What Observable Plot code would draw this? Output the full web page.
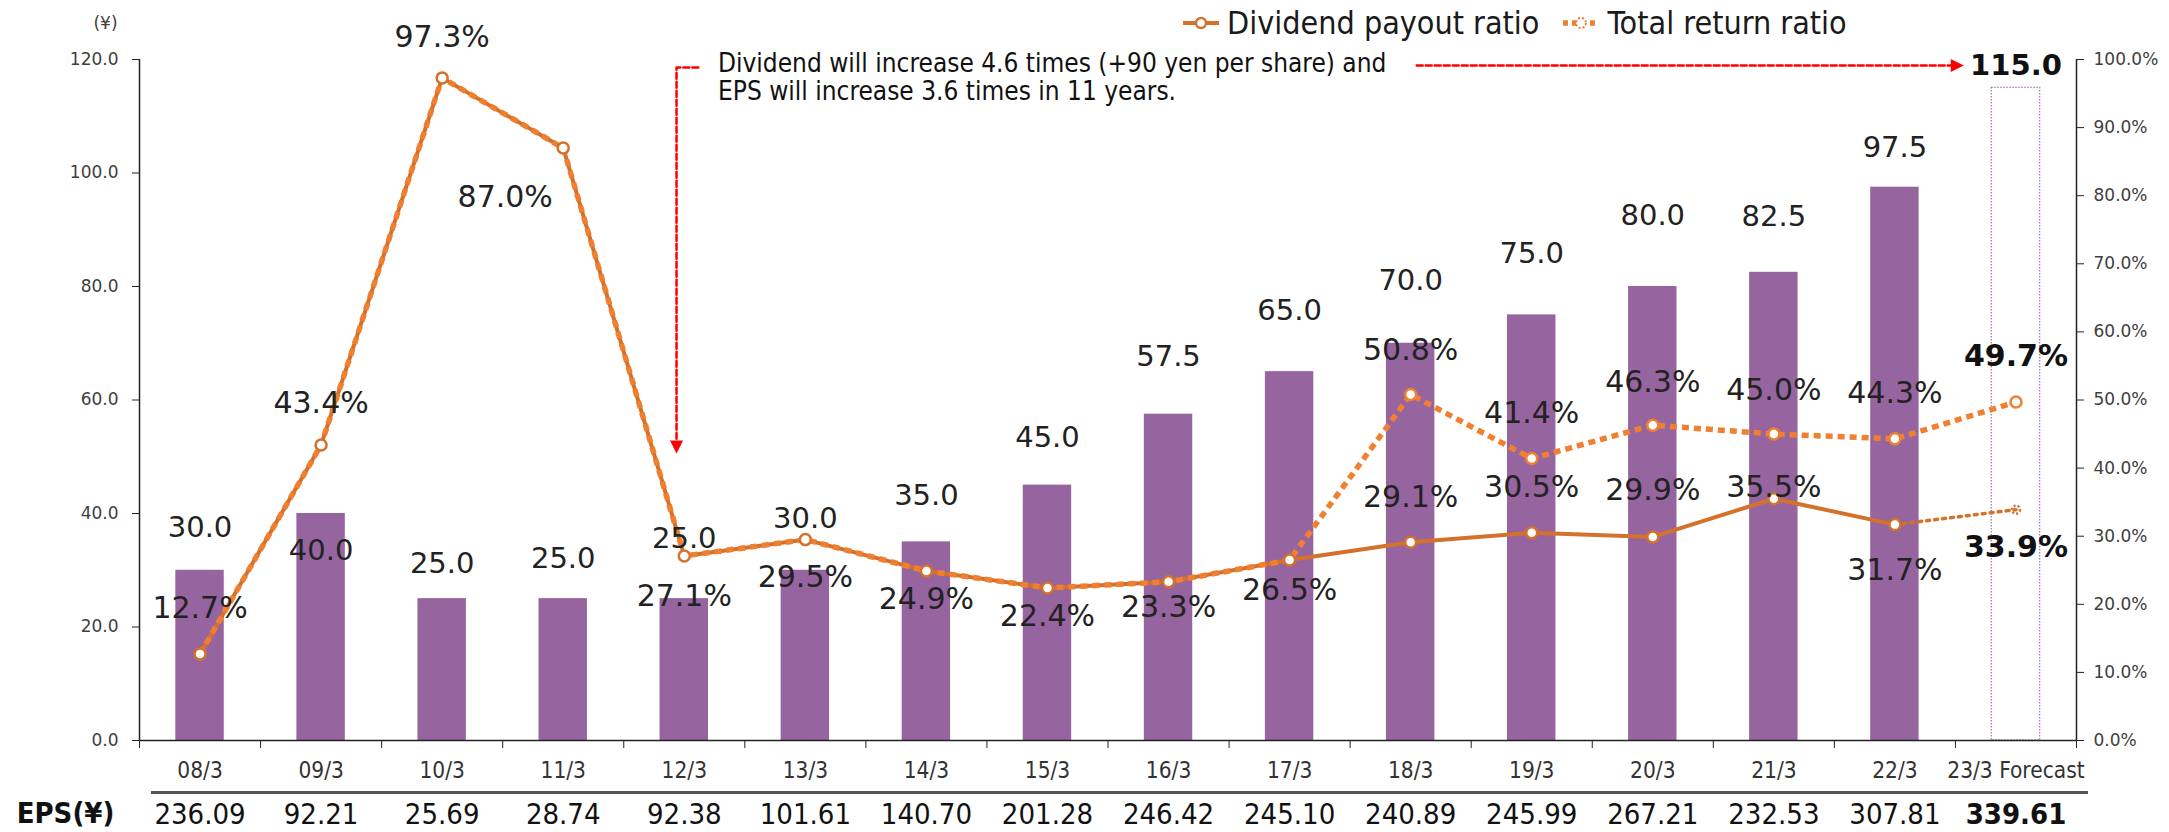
<!DOCTYPE html>
<html>
<head>
<meta charset="utf-8">
<script src="https://cdn.jsdelivr.net/npm/d3@7"></script>
<script src="https://cdn.jsdelivr.net/npm/@observablehq/plot@0.6"></script>
<style>
  html, body { margin: 0; padding: 0; background: #fff; }
  #wrap { position: relative; width: 2169px; height: 832px; overflow: hidden; }
  #legend { position: absolute; top: 4px; left: 1183px; display: flex; align-items: center;
    font-family: "DejaVu Sans Condensed", "DejaVu Sans", sans-serif; font-size: 32px; color: #1a1a1a; white-space: nowrap; line-height: 38px; }
  #legend .item { display: flex; align-items: center; }
  #legend svg { margin-right: 8px; }
  #note { position: absolute; left: 718px; top: 49px; font-family: "DejaVu Sans Condensed", "DejaVu Sans", sans-serif;
    font-size: 26px; line-height: 28px; color: #111; white-space: nowrap; }
</style>
</head>
<body>
<div id="wrap">
  <div id="chart"></div>
  <div id="legend"></div>
  <div id="note"></div>
</div>
<script>
// ---------------- data ----------------
const categories = ["08/3","09/3","10/3","11/3","12/3","13/3","14/3","15/3","16/3","17/3","18/3","19/3","20/3","21/3","22/3","23/3 Forecast"];
const dividend = [30.0,40.0,25.0,25.0,25.0,30.0,35.0,45.0,57.5,65.0,70.0,75.0,80.0,82.5,97.5,115.0];
const payoutRatio = [12.7,43.4,97.3,87.0,27.1,29.5,24.9,22.4,23.3,26.5,29.1,30.5,29.9,35.5,31.7,33.9];
const totalReturnRatio = [12.7,43.4,97.3,87.0,27.1,29.5,24.9,22.4,23.3,26.5,50.8,41.4,46.3,45.0,44.3,49.7];
const eps = ["236.09","92.21","25.69","28.74","92.38","101.61","140.70","201.28","246.42","245.10","240.89","245.99","267.21","232.53","307.81","339.61"];
const yTicks = [0,20,40,60,80,100,120];
const pctTicks = [0,10,20,30,40,50,60,70,80,90,100];
const legendLabels = ["Dividend payout ratio","Total return ratio"];
const noteLines = ["Dividend will increase 4.6 times (+90 yen per share) and","EPS will increase 3.6 times in 11 years."];

// ---------------- layout / style ----------------
const W = 2169, H = 832, mL = 139, mR = 93, mT = 59, mB = 92;
const yMax = 120;
const pxPerYen = (H - mT - mB) / yMax;
const pxPerBand = (W - mL - mR) / categories.length;
const pctToYen = yMax / 100;
const purple = "#96659F", payColor = "#D4712B", totColor = "#F08030", red = "#FF0000";
const numFont = "DejaVu Sans", condFont = "DejaVu Sans Condensed";

// label offsets in pixels (positive = down)
const divLabelDy = [-43,37,-35,-40,-60,-52,-46,-47,-57,-61,-63,-61,-71,-56,-39,-22];
const payLabelDy = [-46,-42,-40,49,40,38,28,28,26,30,-45,-45,-46,-11,46,38];
const payLabelDx = [0,0,0,-58,0,0,0,0,0,0,0,0,0,0,0,0];
const totLabelDy = [0,0,0,0,0,0,0,0,0,0,-44,-45,-43,-44,-45,-46];

const n = categories.length;
const rows = d3.range(n).map(i => ({
  i, cat: categories[i], div: dividend[i], pay: payoutRatio[i], tot: totalReturnRatio[i],
  forecast: i === n - 1
}));
const cx = d => d.i + 0.5;
const hist = rows.filter(d => !d.forecast);
const fc = rows.filter(d => d.forecast);
const diverge = rows.filter(d => d.tot !== d.pay);

const triDown = {draw(ctx, size) { const s = Math.sqrt(size / Math.PI); ctx.moveTo(-s, -s * 0.9); ctx.lineTo(s, -s * 0.9); ctx.lineTo(0, s * 1.1); ctx.closePath(); }};
const triRight = {draw(ctx, size) { const s = Math.sqrt(size / Math.PI); ctx.moveTo(-s * 0.9, -s); ctx.lineTo(-s * 0.9, s); ctx.lineTo(s * 1.1, 0); ctx.closePath(); }};

// annotation arrows anchored to categories
const a1x = categories.indexOf("12/3") + 0.436;
const a1 = [[a1x + 0.18, 118.6], [a1x, 118.6], [a1x, 52.9]];
const a2 = [[categories.indexOf("18/3") + 0.55, 118.94], [categories.indexOf("23/3 Forecast") - 0.04, 118.94]];

const labelY = (v, dy) => v - dy / pxPerYen;

const chart = Plot.plot({
  width: W, height: H,
  marginLeft: mL, marginRight: mR, marginTop: mT, marginBottom: mB,
  style: {fontFamily: numFont, background: "#fff", overflow: "visible"},
  x: {type: "linear", domain: [0, n]},
  y: {type: "linear", domain: [0, yMax]},
  marks: [
    // bars
    Plot.rectY(hist, {x1: d => d.i + 0.3, x2: d => d.i + 0.7, y1: 0, y2: d => d.div, fill: purple}),
    Plot.rectY(fc, {x1: d => d.i + 0.3, x2: d => d.i + 0.7, y1: 0, y2: d => d.div, fill: "none", stroke: "#A77AB6", strokeWidth: 1.3, strokeDasharray: "1.5,1.5"}),
    // axes lines
    Plot.ruleX([0, n], {y1: 0, y2: yMax, stroke: "#222", strokeWidth: 1.5}),
    Plot.ruleY([0], {stroke: "#222", strokeWidth: 1.5}),
    Plot.ruleY([0], {dy: 52, dx: 12, stroke: "#555", strokeWidth: 3}),
    // axes
    Plot.axisY(yTicks, {anchor: "left", tickSize: 7, tickPadding: 14, tickFormat: d => d.toFixed(1), fontSize: 17, fontFamily: numFont, fill: "#404040", stroke: "#222", label: null}),
    Plot.axisY(pctTicks.map(p => p * pctToYen), {anchor: "right", tickSize: 7, tickPadding: 10, tickFormat: d => (d / pctToYen).toFixed(1) + "%", fontSize: 17, fontFamily: numFont, fill: "#404040", stroke: "#222", label: null}),
    Plot.axisX(d3.range(n + 1), {anchor: "bottom", tickSize: 8, tickFormat: () => "", stroke: "#222", label: null}),
    Plot.axisX(rows.map(cx), {anchor: "bottom", tickSize: 0, tickPadding: 22, tickFormat: d => categories[Math.floor(d)], fontSize: 22.5, fontFamily: condFont, fill: "#333", label: null}),
    Plot.axisX(hist.map(cx), {anchor: "bottom", tickSize: 0, tickPadding: 63, tickFormat: d => eps[Math.floor(d)], fontSize: 29, fontFamily: condFont, fill: "#111", label: null}),
    Plot.axisX(fc.map(cx), {anchor: "bottom", tickSize: 0, tickPadding: 63, tickFormat: d => eps[Math.floor(d)], fontSize: 29, fontFamily: condFont, fontWeight: "bold", fill: "#111", label: null}),
    Plot.text(["EPS(¥)"], {frameAnchor: "bottom-left", dx: -74, dy: 73, fontSize: 29, fontFamily: condFont, fontWeight: "bold", fill: "#111", textAnchor: "middle", lineAnchor: "middle"}),
    Plot.text(["(¥)"], {frameAnchor: "top-left", dx: -34, dy: -36, fontSize: 17, fontFamily: numFont, fill: "#404040", textAnchor: "middle", lineAnchor: "middle"}),
    // lines
    Plot.line(hist, {x: cx, y: d => d.pay * pctToYen, stroke: payColor, strokeWidth: 4}),
    Plot.line(rows.slice(n - 2), {x: cx, y: d => d.pay * pctToYen, stroke: payColor, strokeWidth: 3.5, strokeDasharray: "3,5"}),
    Plot.line(rows, {x: cx, y: d => d.tot * pctToYen, stroke: totColor, strokeWidth: 5.5, strokeDasharray: "7,5", strokeLinecap: "butt", strokeLinejoin: "miter"}),
    // markers
    Plot.dot(hist, {x: cx, y: d => d.pay * pctToYen, r: 5.5, fill: "white", stroke: payColor, strokeWidth: 2.5}),
    Plot.dot(diverge, {x: cx, y: d => d.tot * pctToYen, r: 5.5, fill: "white", stroke: totColor, strokeWidth: 2.5}),
    Plot.dot(fc, {x: cx, y: d => d.pay * pctToYen, r: 4, fill: "none", stroke: payColor, strokeWidth: 2.5, strokeDasharray: "2,2"}),
    // value labels
    Plot.text(hist, {x: cx, y: d => labelY(d.div, divLabelDy[d.i]), text: d => d.div.toFixed(1), fontSize: 29, fill: "#222", lineAnchor: "middle"}),
    Plot.text(fc, {x: cx, y: d => labelY(d.div, divLabelDy[d.i]), text: d => d.div.toFixed(1), fontSize: 29, fontWeight: "bold", fill: "#111", lineAnchor: "middle"}),
    Plot.text(hist, {x: d => cx(d) + payLabelDx[d.i] / pxPerBand, y: d => labelY(d.pay * pctToYen, payLabelDy[d.i]), text: d => d.pay.toFixed(1) + "%", fontSize: 30, fill: "#222", lineAnchor: "middle"}),
    Plot.text(fc, {x: cx, y: d => labelY(d.pay * pctToYen, payLabelDy[d.i]), text: d => d.pay.toFixed(1) + "%", fontSize: 30, fontWeight: "bold", fill: "#111", lineAnchor: "middle"}),
    Plot.text(diverge.filter(d => !d.forecast), {x: cx, y: d => labelY(d.tot * pctToYen, totLabelDy[d.i]), text: d => d.tot.toFixed(1) + "%", fontSize: 30, fill: "#222", lineAnchor: "middle"}),
    Plot.text(fc, {x: cx, y: d => labelY(d.tot * pctToYen, totLabelDy[d.i]), text: d => d.tot.toFixed(1) + "%", fontSize: 30, fontWeight: "bold", fill: "#111", lineAnchor: "middle"}),
    // annotation arrows
    Plot.line(a1, {stroke: red, strokeWidth: 2.5, strokeDasharray: "6,3"}),
    Plot.dot([a1[2]], {dy: 6, symbol: triDown, r: 6.5, fill: red, stroke: "none"}),
    Plot.line(a2, {stroke: red, strokeWidth: 2.5, strokeDasharray: "6,3"}),
    Plot.dot([a2[1]], {dx: 6, symbol: triRight, r: 6.5, fill: red, stroke: "none"})
  ]
});
document.getElementById("chart").appendChild(chart);

// legend
const legend = document.getElementById("legend");
const sym1 = `<svg width="36" height="20"><line x1="0" y1="10" x2="36" y2="10" stroke="${payColor}" stroke-width="4"/><circle cx="18" cy="10" r="5" fill="white" stroke="${payColor}" stroke-width="2.5"/></svg>`;
const sym2 = `<svg width="36" height="20"><line x1="0" y1="10" x2="36" y2="10" stroke="${totColor}" stroke-width="5.5" stroke-dasharray="5,4"/><circle cx="18" cy="10" r="5" fill="white" stroke="${totColor}" stroke-width="2" stroke-dasharray="2,2"/></svg>`;
legend.innerHTML = `<div class="item">${sym1}<span>${legendLabels[0]}</span></div><div class="item" style="margin-left:24px">${sym2}<span>${legendLabels[1]}</span></div>`;
document.getElementById("note").innerHTML = noteLines.map(s => `<div>${s}</div>`).join("");
</script>
</body>
</html>
